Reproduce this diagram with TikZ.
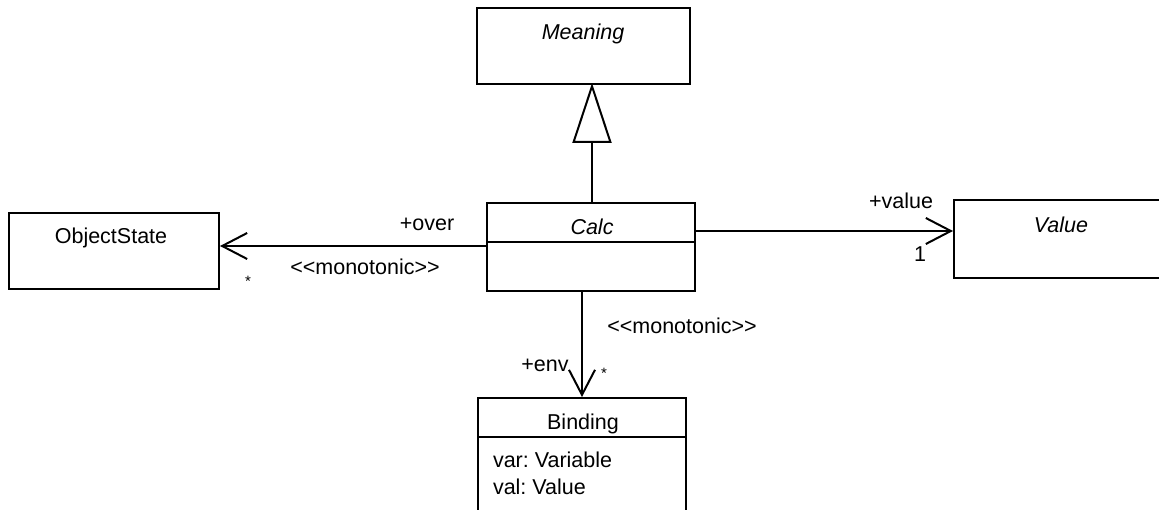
\documentclass[tikz,border=0pt]{standalone}
\usepackage{fontspec}
\setmainfont{Liberation Sans}
\usetikzlibrary{arrows.meta,calc}
\frenchspacing
\begin{document}
\begin{tikzpicture}[x=1pt,y=-1pt, line width=2pt,
  box/.style={draw, rectangle, inner sep=0pt, anchor=north west},
  lbl/.style={font=\fontsize{21.5}{25}\selectfont, inner sep=0pt, anchor=base},
  ital/.style={lbl, font=\fontsize{21.5}{25}\selectfont\itshape},
  star/.style={font=\fontsize{15}{18}\selectfont, inner sep=0pt},
  assoc/.style={-{Straight Barb[length=25pt,width=26pt]}},
  gen/.style={-{Triangle[open,length=60pt,width=39pt]}, shorten >=-2pt}]
\useasboundingbox (0,0) rectangle (1159,510);
\clip (0,0) rectangle (1159,510);
% boxes
\node[box, minimum width=213pt, minimum height=76pt] (meaning) at (476,7) {};
\node[box, minimum width=208pt, minimum height=88pt] (calc) at (486,202) {};
\node[box, minimum width=210pt, minimum height=76pt] (os) at (8,212) {};
\node[box, minimum width=260pt, minimum height=78pt] (value) at (953,199) {};
\node[box, minimum width=208pt, minimum height=150pt] (binding) at (477,397) {};
% compartment dividers
\draw (calc.west |- 0,242) -- (calc.east |- 0,242);
\draw (binding.west |- 0,437) -- (binding.east |- 0,437);
% texts
\node[ital] (meaningt) at (583,40) {Meaning};
\node[ital] (calct) at (592,235) {Calc};
\node[lbl] (ost) at (111,244) {ObjectState};
\node[ital] (valuet) at (1061,233) {Value};
\node[lbl] (bindingt) at (583,429) {Binding};
\node[lbl, anchor=base west] (attr1) at (492,467) {var: Variable};
\node[lbl, anchor=base west] (attr2) at (492,494) {val: Value};
% connectors
\draw[gen] (calc.north -| 592,0) -- (meaning.south -| 592,0);
\draw[assoc] (calc.west |- 0,246) -- (os.east |- 0,246);
\draw[assoc] (calc.east |- 0,231) -- (value.west |- 0,231);
\draw[assoc] (calc.south -| 582,0) -- (binding.north -| 582,0);
% labels
\node[lbl] (over) at (427,231) {+over};
\node[lbl] (mono1) at (365,275) {<{}<monotonic>{}>};
\node[star] (st1) at (248,281) {*};
\node[lbl] (vall) at (901,209) {+value};
\node[lbl] (one) at (920,262) {1};
\node[lbl] (env) at (545,371) {+env};
\node[star] (st2) at (604,373) {*};
\node[lbl] (mono2) at (682,334) {<{}<monotonic>{}>};
\end{tikzpicture}
\end{document}
